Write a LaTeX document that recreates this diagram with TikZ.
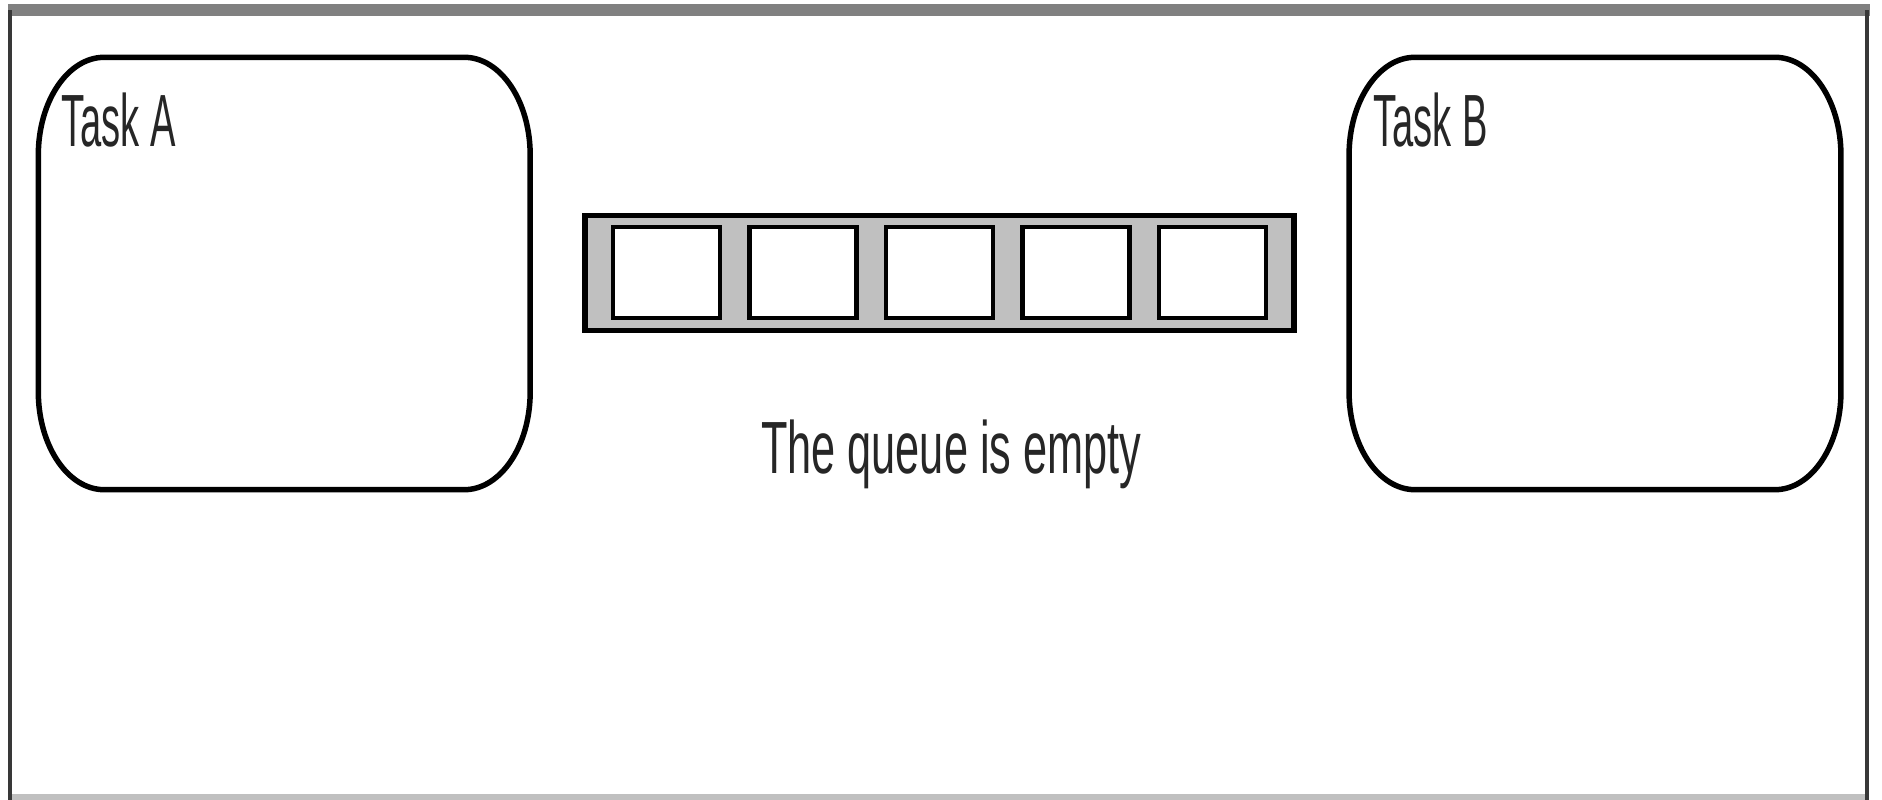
\documentclass[tikz,border=0pt]{standalone}
\usepackage{fontspec}
\setmainfont{Liberation Sans}
\usetikzlibrary{positioning}
\definecolor{framegray}{HTML}{808080}
\definecolor{framedark}{HTML}{383838}
\definecolor{framelight}{HTML}{C0C0C0}
\definecolor{queuefill}{HTML}{C0C0C0}
\tikzset{
  taskarea/.style={shape=rectangle, inner sep=0pt, minimum width=491.5pt, minimum height=432pt},
  taskline/.style={draw=black, line width=5.5pt},
  tasklabel/.style={anchor=base west, inner sep=0pt, font=\fontsize{74}{80}\selectfont, text=black!85},
  queuebox/.style={shape=rectangle, inner sep=0pt, draw=black, line width=5.5pt, fill=queuefill, minimum width=709pt, minimum height=115pt},
  cellbox/.style={shape=rectangle, inner sep=0pt, draw=black, line width=4.5pt, fill=white, minimum width=107pt, minimum height=91pt},
  qlabelstyle/.style={anchor=base west, inner sep=0pt, font=\fontsize{74}{80}\selectfont, text=black!85}
}
\newcommand\taskborder[1]{%
  \draw[taskline] ([xshift=66pt]#1.north west) -- ([xshift=-66pt]#1.north east)
    arc[start angle=90,end angle=0,x radius=66pt,y radius=98pt]
    -- ([yshift=98pt]#1.south east)
    arc[start angle=0,end angle=-90,x radius=66pt,y radius=98pt]
    -- ([xshift=66pt]#1.south west)
    arc[start angle=270,end angle=180,x radius=66pt,y radius=98pt]
    -- ([yshift=-98pt]#1.north west)
    arc[start angle=180,end angle=90,x radius=66pt,y radius=98pt]
    -- cycle;}
\begin{document}
\begin{tikzpicture}[x=1pt,y=1pt]
\useasboundingbox (0,0) rectangle (1882,800);
\fill[white] (0,0) rectangle (1882,800);
% outer frame
\fill[framegray] (8,784) rectangle (1870,796);
\fill[framedark] (8,0) rectangle (12,790);
\fill[framedark] (1865,0) rectangle (1869,790);
\fill[framelight] (12,0) rectangle (1865,6);
% tasks
\node[taskarea] (taskA) at (284.25,526.5) {};
\taskborder{taskA}
\node[taskarea] (taskB) at (1595,526.5) {};
\taskborder{taskB}
\node[tasklabel] (labelA) at (61,653) {\scalebox{0.515}[1]{Task A}};
\node[tasklabel] (labelB) at (1373,653) {\scalebox{0.515}[1]{Task B}};
% queue
\node[queuebox] (queue) at (939.5,527) {};
\foreach \i in {0,...,4}{
  \node[cellbox] (cell\i) at ({666.5+136.5*\i},527.5) {};
}
\node[qlabelstyle] (qlabel) at (761,326) {\scalebox{0.585}[1]{The queue is empty}};
\end{tikzpicture}
\end{document}
